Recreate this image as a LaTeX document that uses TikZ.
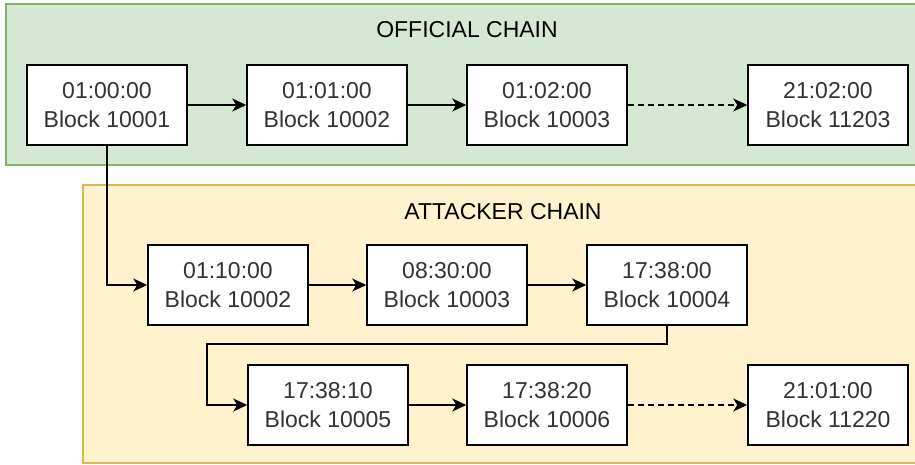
\documentclass[tikz,border=0pt]{standalone}
\usepackage{fontspec}
\setmainfont{Liberation Sans}
\usetikzlibrary{arrows.meta}
\definecolor{offfill}{HTML}{D5E8D4}
\definecolor{offline}{HTML}{82B366}
\definecolor{attfill}{HTML}{FFF2CC}
\definecolor{attline}{HTML}{D6B656}

\begin{document}
\begin{tikzpicture}[x=1pt,y=-1pt,
    block/.style={draw,line width=1.5pt,fill=white,minimum width=160pt,minimum height=80pt,
      inner sep=0pt,align=center,text=black!80,font=\fontsize{23}{29}\selectfont},
    chaintitle/.style={font=\fontsize{23}{29}\selectfont},
    link/.style={line width=1.5pt,-{Stealth[length=14pt,width=13pt,inset=4pt]}}]
          \useasboundingbox (0,0) rectangle (915,465);
          \draw [fill=offfill,draw=offline,line width=1.5pt] (6,4) rectangle (925,165);
          \draw [fill=attfill,draw=attline,line width=1.5pt] (83,185) rectangle (925,463);
          \node[chaintitle] (offtitle) at (467,30) {OFFICIAL CHAIN};
          \node[chaintitle] (atttitle) at (503,212) {ATTACKER CHAIN};
          \node[block] (o1) at (107,105) {01:00:00\\Block 10001};
          \node[block] (o2) at (327,105) {01:01:00\\Block 10002};
          \node[block] (o3) at (547,105) {01:02:00\\Block 10003};
          \node[block] (o4) at (828,105) {21:02:00\\Block 11203};
          \node[block] (a1) at (228,285) {01:10:00\\Block 10002};
          \node[block] (a2) at (447,285) {08:30:00\\Block 10003};
          \node[block] (a3) at (667,285) {17:38:00\\Block 10004};
          \node[block] (a4) at (328,405) {17:38:10\\Block 10005};
          \node[block] (a5) at (547,405) {17:38:20\\Block 10006};
          \node[block] (a6) at (828,405) {21:01:00\\Block 11220};
          \coordinate (turn) at (207,344);
          \draw[link] (o1) -- (o2);
          \draw[link] (o2) -- (o3);
          \draw[link,dashed,dash pattern=on 6pt off 4pt] (o3) -- (o4);
          \draw[link] (o1.south) |- (a1.west);
          \draw[link] (a1) -- (a2);
          \draw[link] (a2) -- (a3);
          \draw[link] (a3.south) |- (turn) |- (a4.west);
          \draw[link] (a4) -- (a5);
          \draw[link,dashed,dash pattern=on 6pt off 4pt] (a5) -- (a6);
\end{tikzpicture}
\end{document}
